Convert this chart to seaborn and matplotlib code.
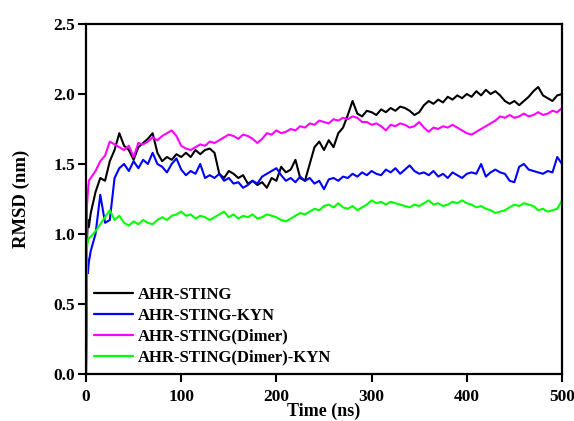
import numpy as np
import pandas as pd
import seaborn as sns
import matplotlib
matplotlib.use("Agg")
import matplotlib.pyplot as plt

# time axis (ns)
time_ns = [0, 1, 2, 3] + list(range(5, 501, 5))

ahr_sting = [0.0, 0.95, 1.1, 1.05,
    1.15, 1.3, 1.4, 1.38, 1.52, 1.6, 1.72, 1.63, 1.6, 1.53,
    1.62, 1.65, 1.68, 1.72, 1.58, 1.52, 1.55, 1.53, 1.57, 1.55,
    1.58, 1.55, 1.6, 1.57, 1.6, 1.61, 1.58, 1.43, 1.4, 1.45,
    1.43, 1.4, 1.42, 1.36, 1.38, 1.35, 1.37, 1.33, 1.4, 1.38,
    1.48, 1.44, 1.46, 1.53, 1.4, 1.38, 1.5, 1.62, 1.66, 1.6,
    1.67, 1.62, 1.72, 1.76, 1.85, 1.95, 1.86, 1.84, 1.88, 1.87,
    1.85, 1.89, 1.87, 1.9, 1.88, 1.91, 1.9, 1.88, 1.85, 1.87,
    1.92, 1.95, 1.93, 1.96, 1.94, 1.98, 1.96, 1.99, 1.97, 2.0,
    1.98, 2.02, 1.99, 2.03, 2.0, 2.02, 1.99, 1.95, 1.93, 1.95,
    1.92, 1.95, 1.98, 2.02, 2.05, 1.99, 1.97, 1.95, 1.99, 2.0]

ahr_sting_kyn = [0.0, 0.84, 0.72, 0.8,
    0.88, 1.0, 1.28, 1.08, 1.1, 1.4, 1.47, 1.5, 1.45, 1.52,
    1.47, 1.53, 1.5, 1.58, 1.5, 1.48, 1.44, 1.5, 1.54, 1.46,
    1.42, 1.45, 1.43, 1.5, 1.4, 1.42, 1.4, 1.43, 1.38, 1.4,
    1.36, 1.37, 1.33, 1.35, 1.38, 1.36, 1.41, 1.43, 1.45, 1.47,
    1.42, 1.38, 1.4, 1.37, 1.41, 1.38, 1.4, 1.36, 1.38, 1.32,
    1.39, 1.4, 1.38, 1.41, 1.4, 1.43, 1.41, 1.44, 1.42, 1.45,
    1.43, 1.42, 1.46, 1.44, 1.47, 1.43, 1.46, 1.49, 1.45, 1.43,
    1.44, 1.42, 1.45, 1.41, 1.43, 1.4, 1.44, 1.42, 1.4, 1.43,
    1.44, 1.43, 1.5, 1.41, 1.44, 1.46, 1.44, 1.43, 1.38, 1.37,
    1.48, 1.5, 1.46, 1.45, 1.44, 1.43, 1.45, 1.44, 1.55, 1.5]

ahr_sting_dimer = [0.0, 1.2, 1.3, 1.38,
    1.4, 1.45, 1.52, 1.56, 1.66, 1.64, 1.62, 1.6, 1.63, 1.55,
    1.65, 1.64, 1.66, 1.69, 1.67, 1.7, 1.72, 1.74, 1.7, 1.63,
    1.61, 1.6, 1.62, 1.64, 1.63, 1.66, 1.65, 1.67, 1.69, 1.71,
    1.7, 1.68, 1.71, 1.7, 1.68, 1.65, 1.68, 1.72, 1.71, 1.74,
    1.72, 1.73, 1.75, 1.74, 1.77, 1.76, 1.79, 1.78, 1.81, 1.8,
    1.79, 1.82, 1.81, 1.83, 1.82, 1.84, 1.83, 1.8, 1.8, 1.78,
    1.79, 1.77, 1.74, 1.78, 1.77, 1.79, 1.78, 1.76, 1.77, 1.8,
    1.76, 1.73, 1.76, 1.75, 1.77, 1.76, 1.78, 1.76, 1.74, 1.72,
    1.71, 1.73, 1.75, 1.77, 1.79, 1.81, 1.84, 1.83, 1.85, 1.83,
    1.84, 1.86, 1.84, 1.85, 1.87, 1.85, 1.86, 1.88, 1.87, 1.9]

ahr_sting_dimer_kyn = [0.0, 0.9, 0.95, 0.97,
    0.98, 1.02, 1.07, 1.12, 1.17, 1.1, 1.13, 1.08, 1.06, 1.09,
    1.07, 1.1, 1.08, 1.07, 1.1, 1.12, 1.1, 1.13, 1.14, 1.16,
    1.13, 1.14, 1.11, 1.13, 1.12, 1.1, 1.12, 1.14, 1.16, 1.12,
    1.14, 1.11, 1.13, 1.12, 1.14, 1.11, 1.12, 1.14, 1.13, 1.12,
    1.1, 1.09, 1.11, 1.13, 1.15, 1.14, 1.16, 1.18, 1.17, 1.2,
    1.21, 1.19, 1.22, 1.19, 1.18, 1.2, 1.17, 1.19, 1.21, 1.24,
    1.22, 1.23, 1.21, 1.23, 1.22, 1.21, 1.2, 1.19, 1.21, 1.2,
    1.22, 1.24, 1.21, 1.22, 1.2, 1.21, 1.23, 1.22, 1.24, 1.22,
    1.21, 1.19, 1.2, 1.18, 1.17, 1.15, 1.16, 1.17, 1.19, 1.21,
    1.2, 1.22, 1.21, 1.2, 1.17, 1.18, 1.16, 1.17, 1.18, 1.24]

labels = ["AHR-STING", "AHR-STING-KYN", "AHR-STING(Dimer)", "AHR-STING(Dimer)-KYN"]
colors = ["#000000", "#0000ff", "#ff00ff", "#00ff00"]

series = [ahr_sting, ahr_sting_kyn, ahr_sting_dimer, ahr_sting_dimer_kyn]
frames = []
for lab, vals in zip(labels, series):
    frames.append(pd.DataFrame({"time": time_ns, "rmsd": vals, "system": lab}))
df = pd.concat(frames, ignore_index=True)

sns.set_style("white")
plt.rcParams["font.family"] = ["Liberation Serif", "DejaVu Serif"]
plt.rcParams["font.weight"] = "bold"
plt.rcParams["axes.labelweight"] = "bold"
for key in ["text.color", "axes.labelcolor", "xtick.color", "ytick.color"]:
    plt.rcParams[key] = "black"

fig = plt.figure(figsize=(5.74, 4.21), dpi=100)
ax = fig.add_axes([86 / 574, 1 - 374 / 421, 476 / 574, 350 / 421])

sns.lineplot(data=df, x="time", y="rmsd", hue="system", hue_order=labels,
             palette=colors, linewidth=1.5, ax=ax, estimator=None, sort=False)

ax.set_xlim(0, 500)
ax.set_ylim(0, 2.5)
ax.set_xticks([0, 100, 200, 300, 400, 500])
ax.set_yticks([0.0, 0.5, 1.0, 1.5, 2.0, 2.5])
ax.set_yticklabels(["0.0", "0.5", "1.0", "1.5", "2.0", "2.5"])
ax.tick_params(axis="both", direction="out", length=6, width=1.5, labelsize=12.5,
               bottom=True, left=True, top=False, right=False)
ax.tick_params(axis="x", pad=5)
ax.tick_params(axis="y", pad=2)
for sp in ax.spines.values():
    sp.set_linewidth(1.6)
    sp.set_color("black")

ax.set_xlabel("Time (ns)", fontsize=13, fontweight="bold", labelpad=-2)
ax.set_ylabel("RMSD (nm)", fontsize=13.5, fontweight="bold", labelpad=17)

leg = ax.legend(loc="lower left", frameon=False, fontsize=12,
                handlelength=2.3, handletextpad=0.3, labelspacing=0.3,
                borderaxespad=0.1)
for line in leg.get_lines():
    line.set_linewidth(1.6)

fig.savefig("out.png", dpi=100)
